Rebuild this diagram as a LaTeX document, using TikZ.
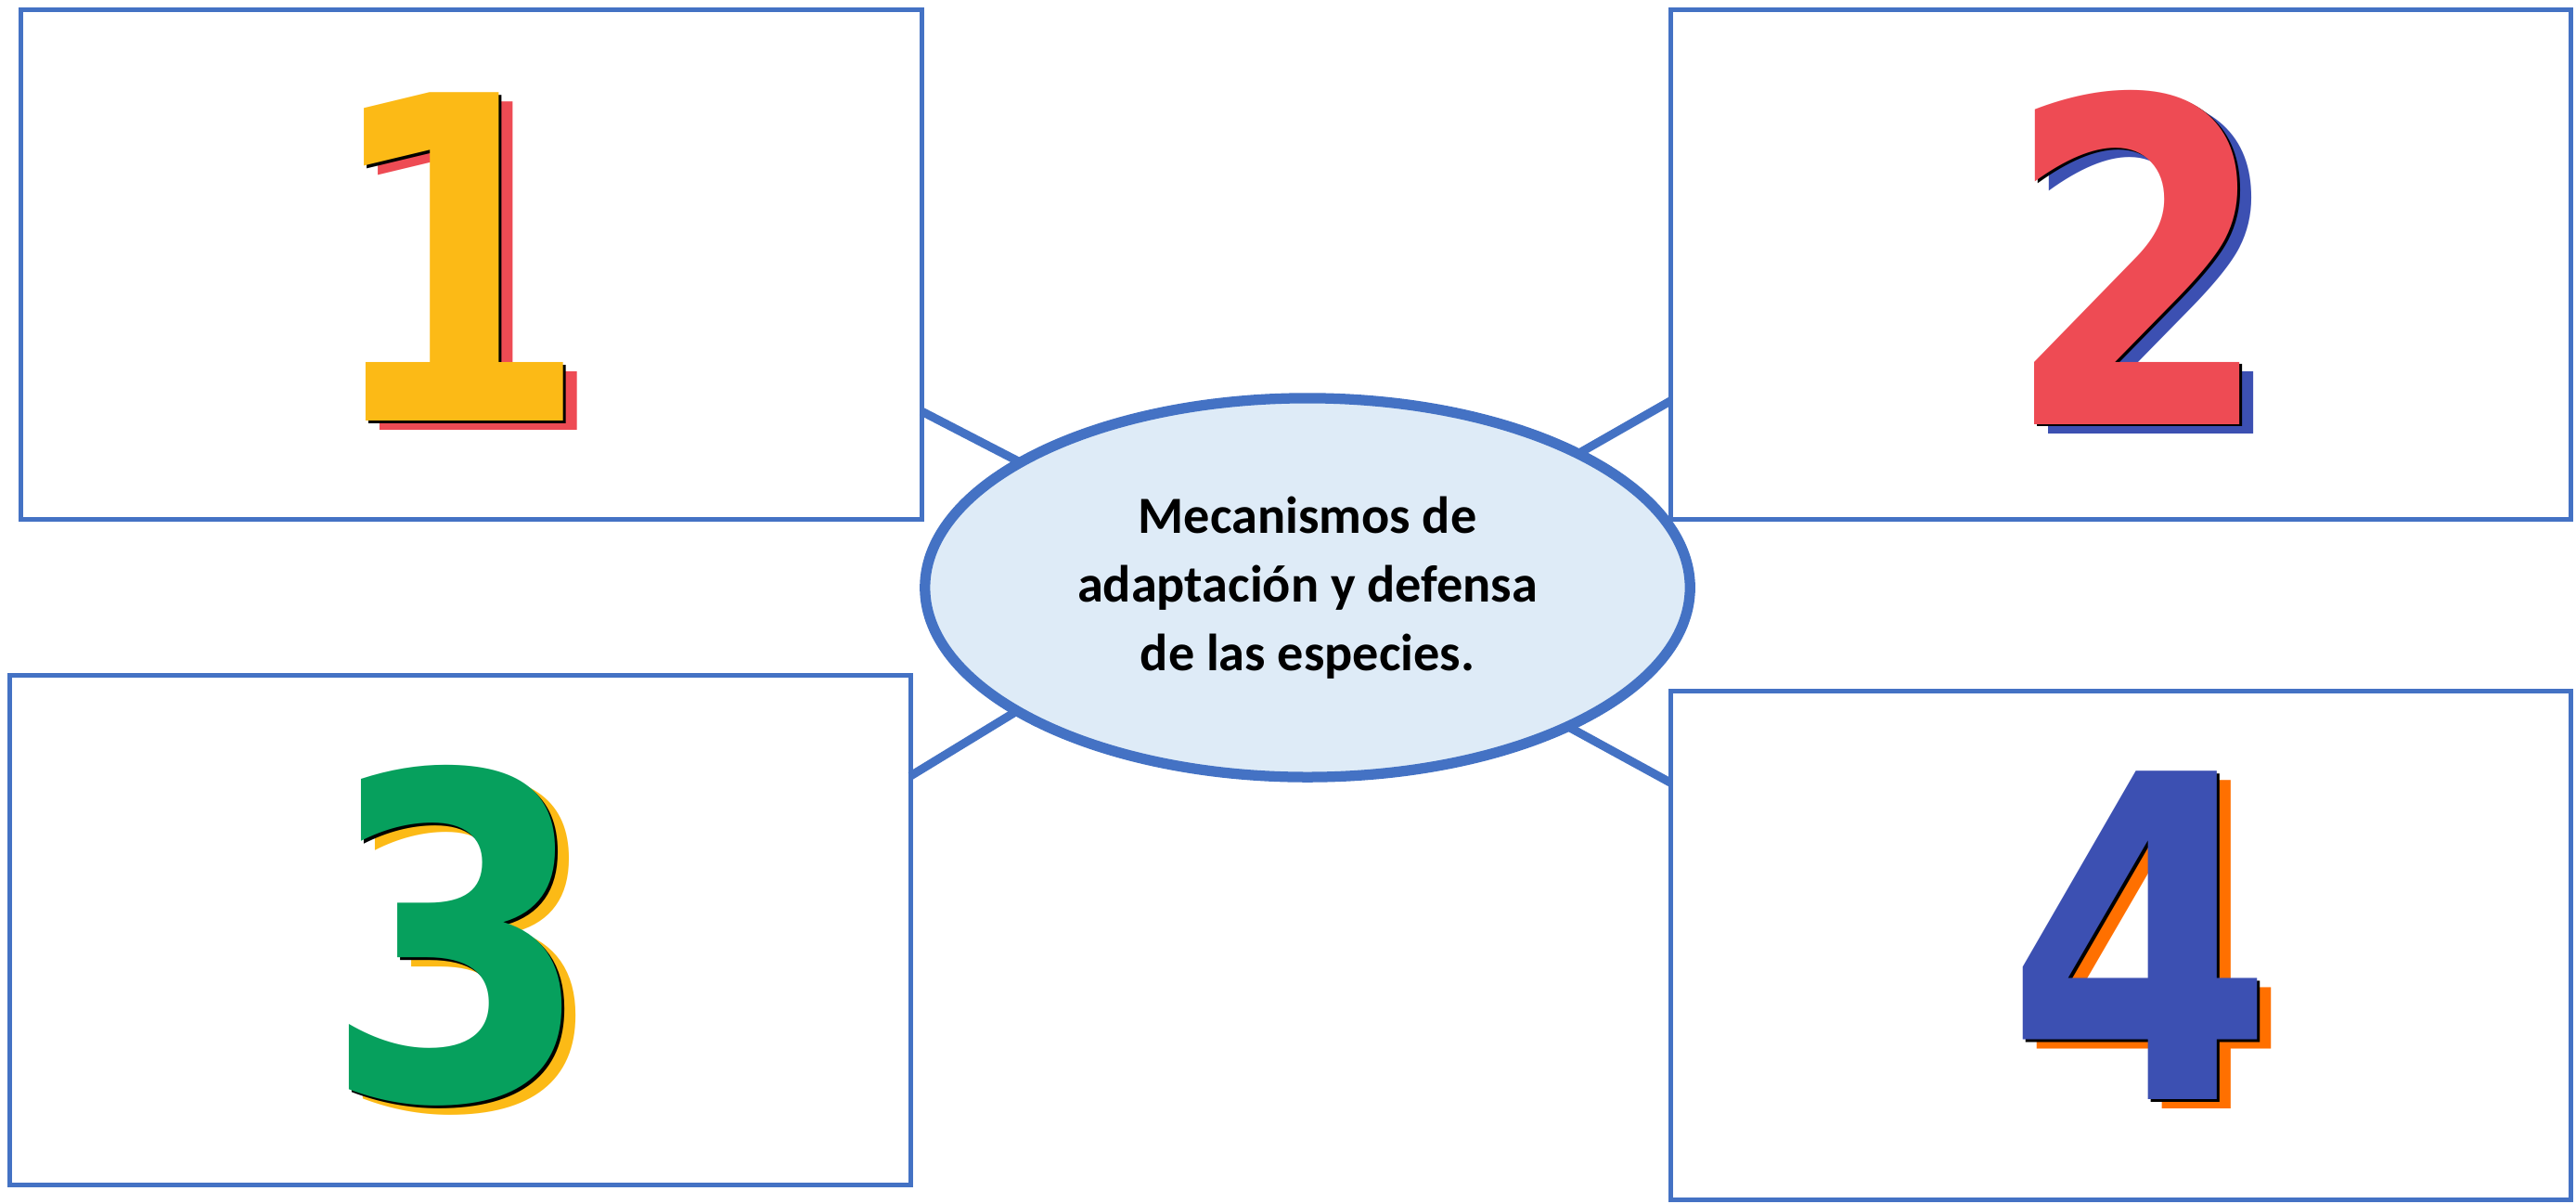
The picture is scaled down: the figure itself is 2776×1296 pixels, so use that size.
\documentclass[tikz,border=0pt]{standalone}
\usepackage{fontspec}
\setmainfont{Carlito}
\newfontfamily\digitfont{DejaVu Sans}
\usetikzlibrary{shapes.geometric,backgrounds}
\definecolor{boxblue}{RGB}{68,114,196}
\definecolor{ellfill}{RGB}{222,235,247}
\definecolor{dyellow}{RGB}{252,186,22}
\definecolor{dred}{RGB}{238,75,84}
\definecolor{dblue}{RGB}{60,80,178}
\definecolor{dgreen}{RGB}{6,160,93}
\definecolor{dorange}{RGB}{255,112,0}
\newcommand\mydigit[5]{%
  \node[digstyle,text=#4] (#1s) at ([shift={(15,10)}]#2) {\scalebox{0.86}[1]{#5}};
  \node[digstyle,text=black] (#1k) at ([shift={(3,2.5)}]#2) {\scalebox{0.86}[1]{#5}};
  \node[digstyle,text=#3] (#1) at ([shift={(0,0)}]#2) {\scalebox{0.86}[1]{#5}};}
\begin{document}
\begin{tikzpicture}[x=0.01cm,y=-0.01cm,
  boxstyle/.style={draw=boxblue,line width=1.4pt,fill=white,rectangle,inner sep=0pt,outer sep=0pt,minimum width=9.70cm,minimum height=5.48cm},
  ellstyle/.style={draw=boxblue,line width=3.2pt,fill=ellfill,ellipse,inner sep=0pt,minimum width=8.24cm,minimum height=4.08cm,align=center,font=\fontsize{16}{21}\selectfont\bfseries},
  linkstyle/.style={draw=boxblue,line width=2.6pt},
  digstyle/.style={inner sep=0pt,outer sep=0pt,font=\digitfont\bfseries\fontsize{138}{138}\selectfont}]
\useasboundingbox[fill=white] (0,0) rectangle (2776,1296);
\node[boxstyle] (b1) at (508,285) {};
\node[boxstyle] (b2) at (2285.5,285) {};
\node[boxstyle] (b3) at (496,1002) {};
\node[boxstyle,minimum height=5.47cm] (b4) at (2285.5,1018.5) {};
\coordinate (c1) at (993,443);
\coordinate (c2) at (1800,432);
\coordinate (c3) at (981,836);
\coordinate (c4) at (1800,843);
\coordinate (e1) at (1140,519);
\coordinate (e2) at (1660,512);
\coordinate (e3) at (1140,739);
\coordinate (e4) at (1650,761);
\draw[linkstyle] (c1) -- (e1);
\draw[linkstyle] (c2) -- (e2);
\draw[linkstyle] (c3) -- (e3);
\draw[linkstyle] (c4) -- (e4);
\node[ellstyle] (ell) at (1409,633) {Mecanismos de\\adaptación y defensa\\de las especies.};
\mydigit{d1}{491,277}{dyellow}{dred}{1}
\mydigit{d2}{2305,277}{dred}{dblue}{2}
\mydigit{d3}{494,1008}{dgreen}{dyellow}{3}
\mydigit{d4}{2307,1008}{dblue}{dorange}{4}
\end{tikzpicture}
\end{document}
